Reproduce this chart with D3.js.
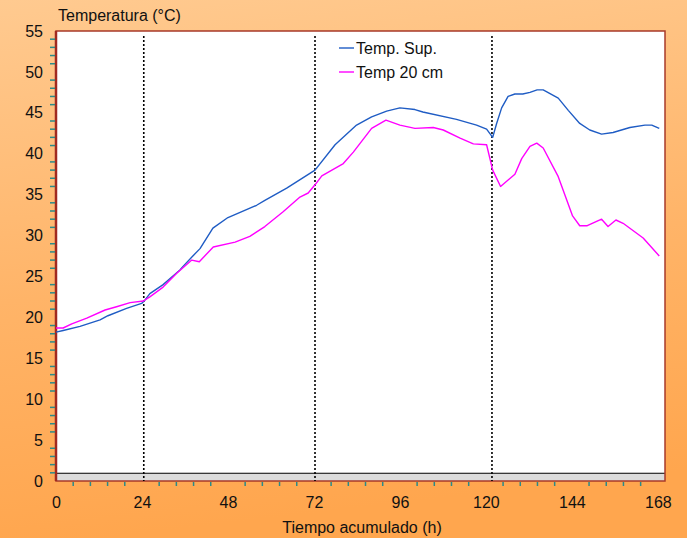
<!DOCTYPE html>
<html>
<head>
<meta charset="utf-8">
<script src="https://cdn.jsdelivr.net/npm/d3@7"></script>
<style>
  body { margin: 0; }
  svg { display: block; font-family: "Liberation Sans", Arial, sans-serif; }
</style>
</head>
<body>
<svg width="687" height="538"></svg>
<script>
// Temp. Sup. (horas, °C)
const supHoras = [0, 2, 6.7, 12.3, 14.5, 19.7, 23.9, 24.8, 26.2, 29.9, 34.6, 35.4, 38.2, 40.2, 43.8, 48, 56, 58.3, 64.4, 72.3, 77.9, 83.9, 88.1, 92.3, 96, 100.2, 102.4, 111.8, 117.4, 120.2, 121.9, 123, 124.4, 126.2, 128.1, 130.3, 132.3, 134.3, 136, 140.2, 143, 146.2, 149, 152.3, 155.5, 160.2, 164.4, 166.3, 168.4];
const supTemp = [18.2, 18.4, 18.9, 19.7, 20.2, 21.1, 21.7, 22.1, 22.9, 24.0, 25.8, 26.2, 27.5, 28.4, 30.9, 32.2, 33.7, 34.3, 35.8, 38.0, 41.1, 43.5, 44.5, 45.2, 45.6, 45.4, 45.1, 44.2, 43.5, 43.0, 42.0, 43.7, 45.6, 47.0, 47.3, 47.3, 47.5, 47.8, 47.8, 46.8, 45.3, 43.7, 42.9, 42.4, 42.6, 43.2, 43.5, 43.5, 43.1];

// Temp 20 cm (horas, °C)
const cm20Horas = [0, 2, 4.4, 8.6, 13.7, 16.9, 20.7, 24.4, 26.2, 29.9, 33.7, 37.9, 40, 43.9, 50, 54.1, 58.3, 63.4, 68.1, 70.4, 72.3, 74.2, 80.2, 83, 88.1, 92.1, 96, 100.2, 105.3, 108.1, 112.8, 116.5, 120.2, 121.9, 124.1, 128.1, 130, 132.3, 134.2, 136, 140.2, 144.2, 146.2, 148.3, 152.3, 154.1, 156.3, 158.3, 163.9, 168.4];
const cm20Temp = [18.7, 18.7, 19.2, 19.9, 20.9, 21.3, 21.8, 22.0, 22.5, 23.7, 25.4, 27.0, 26.8, 28.6, 29.2, 29.9, 31.1, 32.9, 34.7, 35.2, 36.2, 37.3, 38.8, 40.2, 43.1, 44.1, 43.5, 43.1, 43.2, 42.9, 41.9, 41.2, 41.1, 38.0, 36.0, 37.5, 39.4, 40.9, 41.3, 40.7, 37.2, 32.4, 31.2, 31.2, 32.0, 31.1, 31.9, 31.5, 29.7, 27.5];

const xTicks = [0, 24, 48, 72, 96, 120, 144, 168];
const yTicks = [0, 5, 10, 15, 20, 25, 30, 35, 40, 45, 50, 55];
const divisiones = [24.5, 72.3, 121.7];
const leyenda = ["Temp. Sup.", "Temp 20 cm"];
const colores = ["#1f5cc4", "#ff00ff"];

const svg = d3.select("svg");
const W = 687, H = 538;
const m = {left: 56, right: 22, top: 31, bottom: 57};
const fs = 16;

// fondo degradado
const defs = svg.append("defs");
const grad = defs.append("linearGradient").attr("id", "fondo")
  .attr("x1", 0).attr("y1", 0).attr("x2", 0.15).attr("y2", 1);
grad.append("stop").attr("offset", "0%").attr("stop-color", "#ffca90");
grad.append("stop").attr("offset", "55%").attr("stop-color", "#ffb468");
grad.append("stop").attr("offset", "100%").attr("stop-color", "#ffa64e");
svg.append("rect").attr("width", W).attr("height", H).attr("fill", "url(#fondo)");

const x = d3.scaleLinear().domain([0, 170]).range([m.left, W - m.right]);
const y = d3.scaleLinear().domain([0, 55]).range([H - m.bottom, m.top]);

// area del grafico
svg.append("rect")
  .attr("x", x(0)).attr("y", y(55))
  .attr("width", x(170) - x(0)).attr("height", y(0) - y(55))
  .attr("fill", "#fff");

// banda gris del piso
svg.append("rect")
  .attr("x", x(0)).attr("y", y(0.95))
  .attr("width", x(170) - x(0)).attr("height", y(0) - y(0.95))
  .attr("fill", "#dcdcdc");
svg.append("line")
  .attr("x1", x(0)).attr("x2", x(170))
  .attr("y1", y(0.95)).attr("y2", y(0.95))
  .attr("stroke", "#000").attr("stroke-width", 1.2);

// marco
svg.append("rect")
  .attr("x", x(0)).attr("y", y(55))
  .attr("width", x(170) - x(0)).attr("height", y(0) - y(55))
  .attr("fill", "none").attr("stroke", "#a83a2a").attr("stroke-width", 1.5);
svg.append("line")
  .attr("x1", x(0)).attr("x2", x(0)).attr("y1", y(55)).attr("y2", y(0))
  .attr("stroke", "#a02a20").attr("stroke-width", 2.5);

// marcas menores
const menoresX = d3.range(0, 171, 4.8).filter(v => Math.abs(v / 24 - Math.round(v / 24)) > 0.01);
svg.append("g").selectAll("line").data(menoresX).join("line")
  .attr("x1", d => x(d)).attr("x2", d => x(d))
  .attr("y1", y(0) + 1).attr("y2", y(0) + 5)
  .attr("stroke", "#2a8a8a").attr("stroke-width", 1.5);
const menoresY = d3.range(1, 55).filter(v => v % 5 !== 0);
svg.append("g").selectAll("line").data(menoresY).join("line")
  .attr("x1", x(0) - 6).attr("x2", x(0) - 1)
  .attr("y1", d => y(d)).attr("y2", d => y(d))
  .attr("stroke", "#2a8a8a").attr("stroke-width", 1.5);

// ejes (solo etiquetas)
const ejeX = svg.append("g").attr("transform", `translate(0,${y(0)})`)
  .call(d3.axisBottom(x).tickValues(xTicks).tickSize(0).tickPadding(16));
const ejeY = svg.append("g").attr("transform", `translate(${x(0)},0)`)
  .call(d3.axisLeft(y).tickValues(yTicks).tickSize(0).tickPadding(13));
[ejeX, ejeY].forEach(g => {
  g.select(".domain").remove();
  g.selectAll("text").attr("font-size", fs).attr("fill", "#111")
    .attr("font-family", "Liberation Sans, Arial, sans-serif");
});

// lineas divisorias punteadas
svg.append("g").selectAll("line").data(divisiones).join("line")
  .attr("x1", d => x(d)).attr("x2", d => x(d))
  .attr("y1", y(54.4)).attr("y2", y(0))
  .attr("stroke", "#000").attr("stroke-width", 1.6)
  .attr("stroke-dasharray", "2,2");

// series
const linea = d3.line().x(d => x(d[0])).y(d => y(d[1]));
const series = [
  d3.zip(supHoras, supTemp),
  d3.zip(cm20Horas, cm20Temp)
];
svg.append("g").selectAll("path").data(series).join("path")
  .attr("d", linea)
  .attr("fill", "none")
  .attr("stroke", (d, i) => colores[i])
  .attr("stroke-width", 1.4)
  .attr("stroke-linejoin", "round");

// leyenda
const ley = svg.append("g").selectAll("g").data(leyenda).join("g")
  .attr("transform", (d, i) => `translate(339,${48 + i * 24})`);
ley.append("line").attr("x1", 0).attr("x2", 15)
  .attr("stroke", (d, i) => colores[i]).attr("stroke-width", 1.4);
ley.append("text").attr("x", 17).attr("y", 5.5)
  .attr("font-size", fs).attr("fill", "#111").text(d => d);

// titulos
svg.append("text").attr("x", 58).attr("y", 21)
  .attr("font-size", fs).attr("fill", "#111").text("Temperatura (°C)");
svg.append("text").attr("x", 362).attr("y", 533)
  .attr("text-anchor", "middle")
  .attr("font-size", fs).attr("fill", "#111").text("Tiempo acumulado (h)");
</script>
</body>
</html>
